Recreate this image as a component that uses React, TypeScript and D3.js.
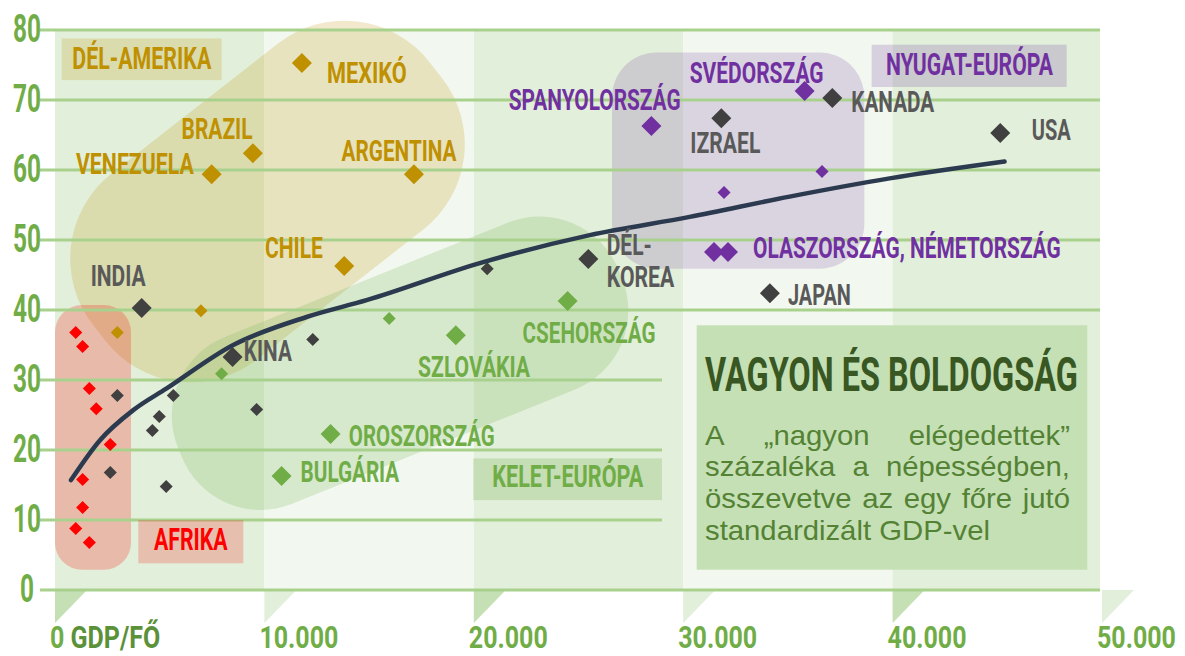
import React from "react";
import * as d3 from "d3";

// ---------------- DATA ----------------
const GDP_TICKS = [0, 10000, 20000, 30000, 40000, 50000];
const GDP_TICK_LABELS = ["0", "10.000", "20.000", "30.000", "40.000", "50.000"];
const HAPPY_TICKS = [0, 10, 20, 30, 40, 50, 60, 70, 80];

const southAmerica = [
  { name: "MEXIKÓ", gdp: 11790, happy: 75.3 },
  { name: "BRAZIL", gdp: 9450, happy: 62.4 },
  { name: "VENEZUELA", gdp: 7480, happy: 59.4 },
  { name: "ARGENTINA", gdp: 17140, happy: 59.4 },
  { name: "CHILE", gdp: 13810, happy: 46.3 },
];
const southAmericaOther = [
  { gdp: 6970, happy: 39.9 },
  { gdp: 2975, happy: 36.8 },
];

const eastEurope = [
  { name: "SZLOVÁKIA", gdp: 19140, happy: 36.4 },
  { name: "CSEHORSZÁG", gdp: 24480, happy: 41.3 },
  { name: "OROSZORSZÁG", gdp: 13160, happy: 22.3 },
  { name: "BULGÁRIA", gdp: 10820, happy: 16.3 },
];
const eastEuropeOther = [
  { gdp: 15960, happy: 38.8 },
  { gdp: 7955, happy: 30.9 },
];

const westEurope = [
  { name: "SPANYOLORSZÁG", gdp: 28480, happy: 66.3 },
  { name: "SVÉDORSZÁG", gdp: 35800, happy: 71.3 },
  { name: "OLASZORSZÁG", gdp: 31470, happy: 48.3 },
  { name: "NÉMETORSZÁG", gdp: 32140, happy: 48.3 },
];
const westEuropeOther = [
  { gdp: 31950, happy: 56.8 },
  { gdp: 36630, happy: 59.8 },
];

const africa = [
  { gdp: 990, happy: 36.8 },
  { gdp: 1320, happy: 34.8 },
  { gdp: 1640, happy: 28.8 },
  { gdp: 1970, happy: 25.9 },
  { gdp: 2640, happy: 20.8 },
  { gdp: 1320, happy: 15.8 },
  { gdp: 1320, happy: 11.8 },
  { gdp: 990, happy: 8.8 },
  { gdp: 1640, happy: 6.8 },
];

const otherNamed = [
  { name: "INDIA", gdp: 4140, happy: 40.3 },
  { name: "KÍNA", gdp: 8480, happy: 33.3 },
  { name: "DÉL-KOREA", gdp: 25470, happy: 47.3 },
  { name: "IZRAEL", gdp: 31820, happy: 67.4 },
  { name: "KANADA", gdp: 37120, happy: 70.3 },
  { name: "USA", gdp: 45140, happy: 65.3 },
  { name: "JAPÁN", gdp: 34140, happy: 42.4 },
];
const otherSmall = [
  { gdp: 2975, happy: 27.8 },
  { gdp: 2640, happy: 16.8 },
  { gdp: 4650, happy: 22.8 },
  { gdp: 4980, happy: 24.8 },
  { gdp: 5650, happy: 27.8 },
  { gdp: 5310, happy: 14.8 },
  { gdp: 9630, happy: 25.8 },
  { gdp: 12310, happy: 35.8 },
  { gdp: 20640, happy: 45.9 },
];

const trend = [
  { gdp: 764, happy: 15.7 },
  { gdp: 2148, happy: 21.4 },
  { gdp: 3737, happy: 25.7 },
  { gdp: 5332, happy: 28.8 },
  { gdp: 8511, happy: 35.0 },
  { gdp: 12014, happy: 39.0 },
  { gdp: 14878, happy: 41.4 },
  { gdp: 20286, happy: 46.7 },
  { gdp: 25537, happy: 50.7 },
  { gdp: 30310, happy: 53.3 },
  { gdp: 35084, happy: 56.2 },
  { gdp: 39857, happy: 58.8 },
  { gdp: 45346, happy: 61.2 },
];

const TITLE = "VAGYON ÉS BOLDOGSÁG";
const SUBTITLE_LINES = [
  "A „nagyon elégedettek”",
  "százaléka a népességben,",
  "összevetve az egy főre jutó",
  "standardizált GDP-vel",
];
const X_AXIS_NAME = "GDP/FŐ";

// ---------------- STYLE / LAYOUT ----------------
const C = {
  gold: "#bf9000",
  dark: "#404040",
  darkLabel: "#595959",
  green: "#70ad47",
  purple: "#7030a0",
  red: "#ff0000",
  grid: "#a9d18e",
  bandDark: "#e2efda",
  bandLight: "#f2f8ef",
  triDark: "#c5e0b4",
  titleBox: "#c5e0b4",
  title: "#385723",
  subtitle: "#548235",
  axisName: "#5a9139",
  trend: "#2c3a4f",
};

const COND = "Roboto, 'DejaVu Sans', sans-serif";
const SANS = "'Liberation Sans', Arial, sans-serif";

// label offsets (pixels from diamond centre), baseline dy, target width
const LABELS: Record<string, { lines: { t: string; dx: number; dy: number; w: number }[] }> = {
  "MEXIKÓ": { lines: [{ t: "MEXIKÓ", dx: 25, dy: 20, w: 80 }] },
  "BRAZIL": { lines: [{ t: "BRAZIL", dx: -71.3, dy: -14.3, w: 71 }] },
  "VENEZUELA": { lines: [{ t: "VENEZUELA", dx: -135.7, dy: 0, w: 118 }] },
  "ARGENTINA": { lines: [{ t: "ARGENTINA", dx: -72.3, dy: -13.6, w: 115 }] },
  "CHILE": { lines: [{ t: "CHILE", dx: -79.3, dy: -8, w: 58 }] },
  "INDIA": { lines: [{ t: "INDIA", dx: -51, dy: -21.7, w: 55 }] },
  "KÍNA": { lines: [{ t: "KINA", dx: 11.3, dy: 4.3, w: 48 }] },
  "SZLOVÁKIA": { lines: [{ t: "SZLOVÁKIA", dx: -37.7, dy: 41.7, w: 112 }] },
  "CSEHORSZÁG": { lines: [{ t: "CSEHORSZÁG", dx: -45, dy: 42, w: 133 }] },
  "OROSZORSZÁG": { lines: [{ t: "OROSZORSZÁG", dx: 18.3, dy: 12, w: 146 }] },
  "BULGÁRIA": { lines: [{ t: "BULGÁRIA", dx: 19, dy: 6, w: 98.7 }] },
  "DÉL-KOREA": {
    lines: [
      { t: "DÉL-", dx: 18.4, dy: -4, w: 45 },
      { t: "KOREA", dx: 18.4, dy: 27.7, w: 67.6 },
    ],
  },
  "SPANYOLORSZÁG": { lines: [{ t: "SPANYOLORSZÁG", dx: -142.7, dy: -16, w: 172 }] },
  "IZRAEL": { lines: [{ t: "IZRAEL", dx: -31, dy: 34.4, w: 70 }] },
  "SVÉDORSZÁG": { lines: [{ t: "SVÉDORSZÁG", dx: -115, dy: -7.7, w: 134 }] },
  "KANADA": { lines: [{ t: "KANADA", dx: 19, dy: 14, w: 83 }] },
  "USA": { lines: [{ t: "USA", dx: 31.6, dy: 7.3, w: 39 }] },
  "NÉMETORSZÁG": { lines: [{ t: "OLASZORSZÁG, NÉMETORSZÁG", dx: 25, dy: 6.3, w: 308 }] },
  "JAPÁN": { lines: [{ t: "JAPAN", dx: 18, dy: 12, w: 63 }] },
};

// region shapes: anchors in data units, sizes in pixels
const REGION_BLOBS = [
  { kind: "rot", gdp: 10148, happy: 55.5, w: 427, h: 236, r: 108, angle: -38, fill: C.gold, op: 0.2 },
  { kind: "rot", gdp: 16477, happy: 32.4, w: 475, h: 180, r: 85, angle: -22, fill: C.green, op: 0.2 },
  { kind: "rect", gdp0: 26600, gdp1: 38650, h0: 45.9, h1: 76.8, r: 45, fill: C.purple, op: 0.18 },
  { kind: "rect", gdp0: 0, gdp1: 3630, h0: 2.9, h1: 40.7, r: 27, fill: C.red, op: 0.22 },
];

const REGION_LABELS = [
  { t: "DÉL-AMERIKA", gdp: 320, happy: 78.8, bw: 160, bh: 41.7, tx: 10.6, ty: 31, tw: 139, color: C.gold, op: 0.2 },
  { t: "NYUGAT-EURÓPA", gdp: 39000, happy: 77.9, bw: 195, bh: 42.3, tx: 14.3, ty: 30.7, tw: 167, color: C.purple, op: 0.2 },
  { t: "KELET-EURÓPA", gdp: 19975, happy: 18.8, bw: 188.7, bh: 41.7, tx: 19, ty: 29, tw: 151, color: C.green, op: 0.25 },
  { t: "AFRIKA", gdp: 3978, happy: 10, bw: 105, bh: 43.3, tx: 15.7, ty: 30, tw: 73.7, color: C.red, op: 0.2 },
];

// ---------------- HELPERS ----------------
let _ctx: CanvasRenderingContext2D | null = null;
function textWidth(t: string, font: string): number {
  if (!_ctx) _ctx = document.createElement("canvas").getContext("2d");
  if (!_ctx) return t.length * 10;
  _ctx.font = font;
  return _ctx.measureText(t).width;
}

function FitText(props: {
  x: number; y: number; w: number; text: string; size: number; fill: string;
  weight?: number; family?: string; anchor?: string; children?: React.ReactNode;
}) {
  const { x, y, w, text, size, fill, weight = 700, family = COND, anchor = "start" } = props;
  const nat = textWidth(text, `${weight} ${size}px ${family}`) || 1;
  return (
    <text
      transform={`translate(${x},${y}) scale(${w / nat},1)`}
      fontFamily={family}
      fontSize={size}
      fontWeight={weight}
      fill={fill}
      textAnchor={anchor}
    >
      {props.children ?? text}
    </text>
  );
}

export default function App() {
  const W = 1185, H = 656;
  const x = d3.scaleLinear().domain([0, 50000]).range([55, 1102]);
  const y = d3.scaleLinear().domain([0, 80]).range([590, 30]);

  const bigSym = d3.symbol(d3.symbolSquare, 200)() as string;
  const smallSym = d3.symbol(d3.symbolSquare, 85)() as string;

  const trendPath = d3
    .line<{ gdp: number; happy: number }>()
    .x((d) => x(d.gdp))
    .y((d) => y(d.happy))
    .curve(d3.curveMonotoneX)(trend) as string;

  const labelSize = 30;
  const gridEndX = 1100;
  const gridBreakX = 662;
  const gridBreakTicks = [10, 20, 30];

  // tick label scales
  const yFont = 38;
  const ySx = 28 / (textWidth("80", `700 ${yFont}px ${COND}`) || 1);
  const xFont = 32;
  const xSx = 79 / (textWidth("10.000", `700 ${xFont}px ${COND}`) || 1);
  const xBase = 648;

  // title box
  const box = { x: 696.7, y: 325.3, w: 390.6, h: 244.4 };

  // subtitle justification
  const subSize = 27;
  const subFont = `400 ${subSize}px ${SANS}`;
  const subK = 285 / (textWidth(SUBTITLE_LINES[3], subFont) || 1);
  const subX0 = 705, subX1 = 1070, subY0 = 444.7, subLH = 31.7;

  const diamond = (d: { gdp: number; happy: number }, big: boolean, fill: string, key: string) => (
    <path
      key={key}
      d={big ? bigSym : smallSym}
      transform={`translate(${x(d.gdp)},${y(d.happy)}) rotate(45)`}
      fill={fill}
    />
  );

  const groups = [
    { named: southAmerica, small: southAmericaOther, color: C.gold, label: C.gold },
    { named: eastEurope, small: eastEuropeOther, color: C.green, label: C.green },
    { named: westEurope, small: westEuropeOther, color: C.purple, label: C.purple },
    { named: otherNamed, small: otherSmall, color: C.dark, label: C.darkLabel },
    { named: [] as { name: string; gdp: number; happy: number }[], small: africa, color: C.red, label: C.red },
  ];

  return (
    <div style={{ position: "absolute", left: 0, top: 0, width: W, height: H, background: "#fff" }}>
      <svg width={W} height={H} viewBox={`0 0 ${W} ${H}`}>
        {/* bands */}
        {GDP_TICKS.slice(0, -1).map((t, i) => (
          <rect
            key={"band" + t}
            x={x(t)}
            y={y(80)}
            width={Math.min(x(GDP_TICKS[i + 1]), gridEndX) - x(t)}
            height={y(0) - y(80)}
            fill={i % 2 === 0 ? C.bandDark : C.bandLight}
          />
        ))}
        {/* pointer triangles */}
        {GDP_TICKS.map((t, i) => (
          <path
            key={"tri" + t}
            d={`M${x(t)},${y(0)} L${x(t) + 32},${y(0)} L${x(t)},${y(0) + 33} Z`}
            fill={i % 2 === 0 ? C.triDark : C.bandDark}
          />
        ))}

        {/* region blobs */}
        {REGION_BLOBS.map((b, i) =>
          b.kind === "rot" ? (
            <rect
              key={"blob" + i}
              x={-b.w! / 2}
              y={-b.h! / 2}
              width={b.w}
              height={b.h}
              rx={b.r}
              ry={b.r}
              transform={`translate(${x(b.gdp!)},${y(b.happy!)}) rotate(${b.angle})`}
              fill={b.fill}
              fillOpacity={b.op}
            />
          ) : (
            <rect
              key={"blob" + i}
              x={x(b.gdp0!)}
              y={y(b.h1!)}
              width={x(b.gdp1!) - x(b.gdp0!)}
              height={y(b.h0!) - y(b.h1!)}
              rx={b.r}
              ry={b.r}
              fill={b.fill}
              fillOpacity={b.op}
            />
          )
        )}

        {/* gridlines */}
        {HAPPY_TICKS.map((t) => (
          <line
            key={"g" + t}
            x1={40}
            x2={gridBreakTicks.includes(t) ? gridBreakX : gridEndX}
            y1={y(t)}
            y2={y(t)}
            stroke={C.grid}
            strokeWidth={3}
          />
        ))}

        {/* region label boxes */}
        {REGION_LABELS.map((r) => (
          <rect key={"rb" + r.t} x={x(r.gdp)} y={y(r.happy)} width={r.bw} height={r.bh} fill={r.color} fillOpacity={r.op} />
        ))}

        {/* title box */}
        <rect x={box.x} y={box.y} width={box.w} height={box.h} fill={C.titleBox} />
        <FitText x={705} y={391.3} w={373} text={TITLE} size={49} fill={C.title} />
        {SUBTITLE_LINES.map((ln, i) => {
          const words = ln.split(" ");
          const ws = words.map((w) => textWidth(w, subFont) * subK);
          const last = i === SUBTITLE_LINES.length - 1;
          const gap = last
            ? textWidth(" ", subFont) * subK
            : (subX1 - subX0 - d3.sum(ws)) / Math.max(1, words.length - 1);
          let cx = subX0;
          return words.map((w, j) => {
            const el = (
              <text
                key={`sub${i}-${j}`}
                transform={`translate(${cx},${subY0 + i * subLH}) scale(${subK},1)`}
                fontFamily={SANS}
                fontSize={subSize}
                fill={C.subtitle}
              >
                {w}
              </text>
            );
            cx += ws[j] + gap;
            return el;
          });
        })}

        {/* diamonds */}
        {groups.map((g, gi) => (
          <g key={"grp" + gi}>
            {g.small.map((d, i) => diamond(d, false, g.color, `s${gi}-${i}`))}
            {g.named.map((d, i) => diamond(d, true, g.color, `n${gi}-${i}`))}
          </g>
        ))}

        {/* trend line */}
        <path d={trendPath} fill="none" stroke={C.trend} strokeWidth={4.5} strokeLinecap="round" />

        {/* point labels */}
        {groups.map((g) =>
          g.named.map((d) => {
            const L = LABELS[d.name];
            if (!L) return null;
            return L.lines.map((ln, li) => (
              <FitText
                key={`${d.name}-${li}`}
                x={x(d.gdp) + ln.dx}
                y={y(d.happy) + ln.dy}
                w={ln.w}
                text={ln.t}
                size={labelSize}
                fill={g.label}
              />
            ));
          })
        )}

        {/* region label texts */}
        {REGION_LABELS.map((r) => (
          <FitText
            key={"rt" + r.t}
            x={x(r.gdp) + r.tx}
            y={y(r.happy) + r.ty}
            w={r.tw}
            text={r.t}
            size={31}
            fill={r.color}
          />
        ))}

        {/* y tick labels */}
        {HAPPY_TICKS.map((t) => (
          <text
            key={"yl" + t}
            transform={`translate(27,${y(t) + 12}) scale(${ySx},1)`}
            fontFamily={COND}
            fontSize={yFont}
            fontWeight={700}
            fill={C.green}
            textAnchor="middle"
          >
            {String(t)}
          </text>
        ))}

        {/* x tick labels */}
        {GDP_TICKS.map((t, i) => (
          <text
            key={"xl" + t}
            transform={`translate(${x(t) - 5},${xBase}) scale(${xSx},1)`}
            fontFamily={COND}
            fontSize={xFont}
            fontWeight={700}
            fill={C.green}
          >
            {GDP_TICK_LABELS[i]}
            {i === 0 ? <tspan fill={C.axisName}>{" " + X_AXIS_NAME}</tspan> : null}
          </text>
        ))}
      </svg>
    </div>
  );
}
